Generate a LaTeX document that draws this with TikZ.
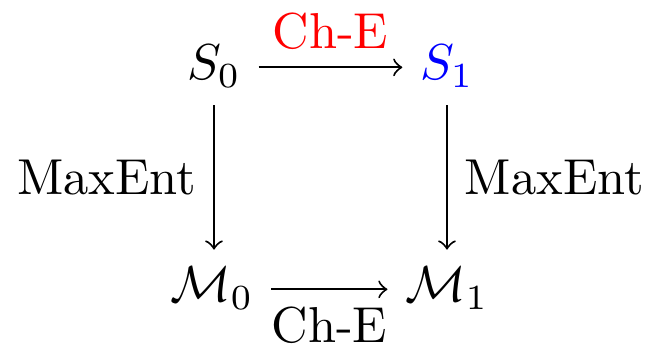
\documentclass[tikz,border=0pt]{standalone}
\begin{document}
\begin{tikzpicture}[x=0.198pt,y=-0.198pt,
  obj/.style={anchor=base},
  arr/.style={->}]
\useasboundingbox (0,0) rectangle (651,345);
\node[obj] (S0) at (214,80) {$S_0$};
\node[obj] (S1) at (447,80) {\color{blue}$S_1$};
\node[obj] (M0) at (212,302) {$\mathcal{M}_0$};
\node[obj] (M1) at (447,302) {$\mathcal{M}_1$};
\draw[arr] ([yshift=2.5pt]S0.base east) -- node[above, text=red] {Ch-E} ([yshift=2.5pt]S1.base west);
\draw[arr] ([yshift=2.5pt]M0.base east) -- node[below] {Ch-E} ([yshift=2.5pt]M1.base west);
\draw[arr] (S0.south) -- node[left] {MaxEnt} (S0.south |- M0.north);
\draw[arr] (S1.south) -- node[right] {MaxEnt} (S1.south |- M1.north);
\end{tikzpicture}
\end{document}
